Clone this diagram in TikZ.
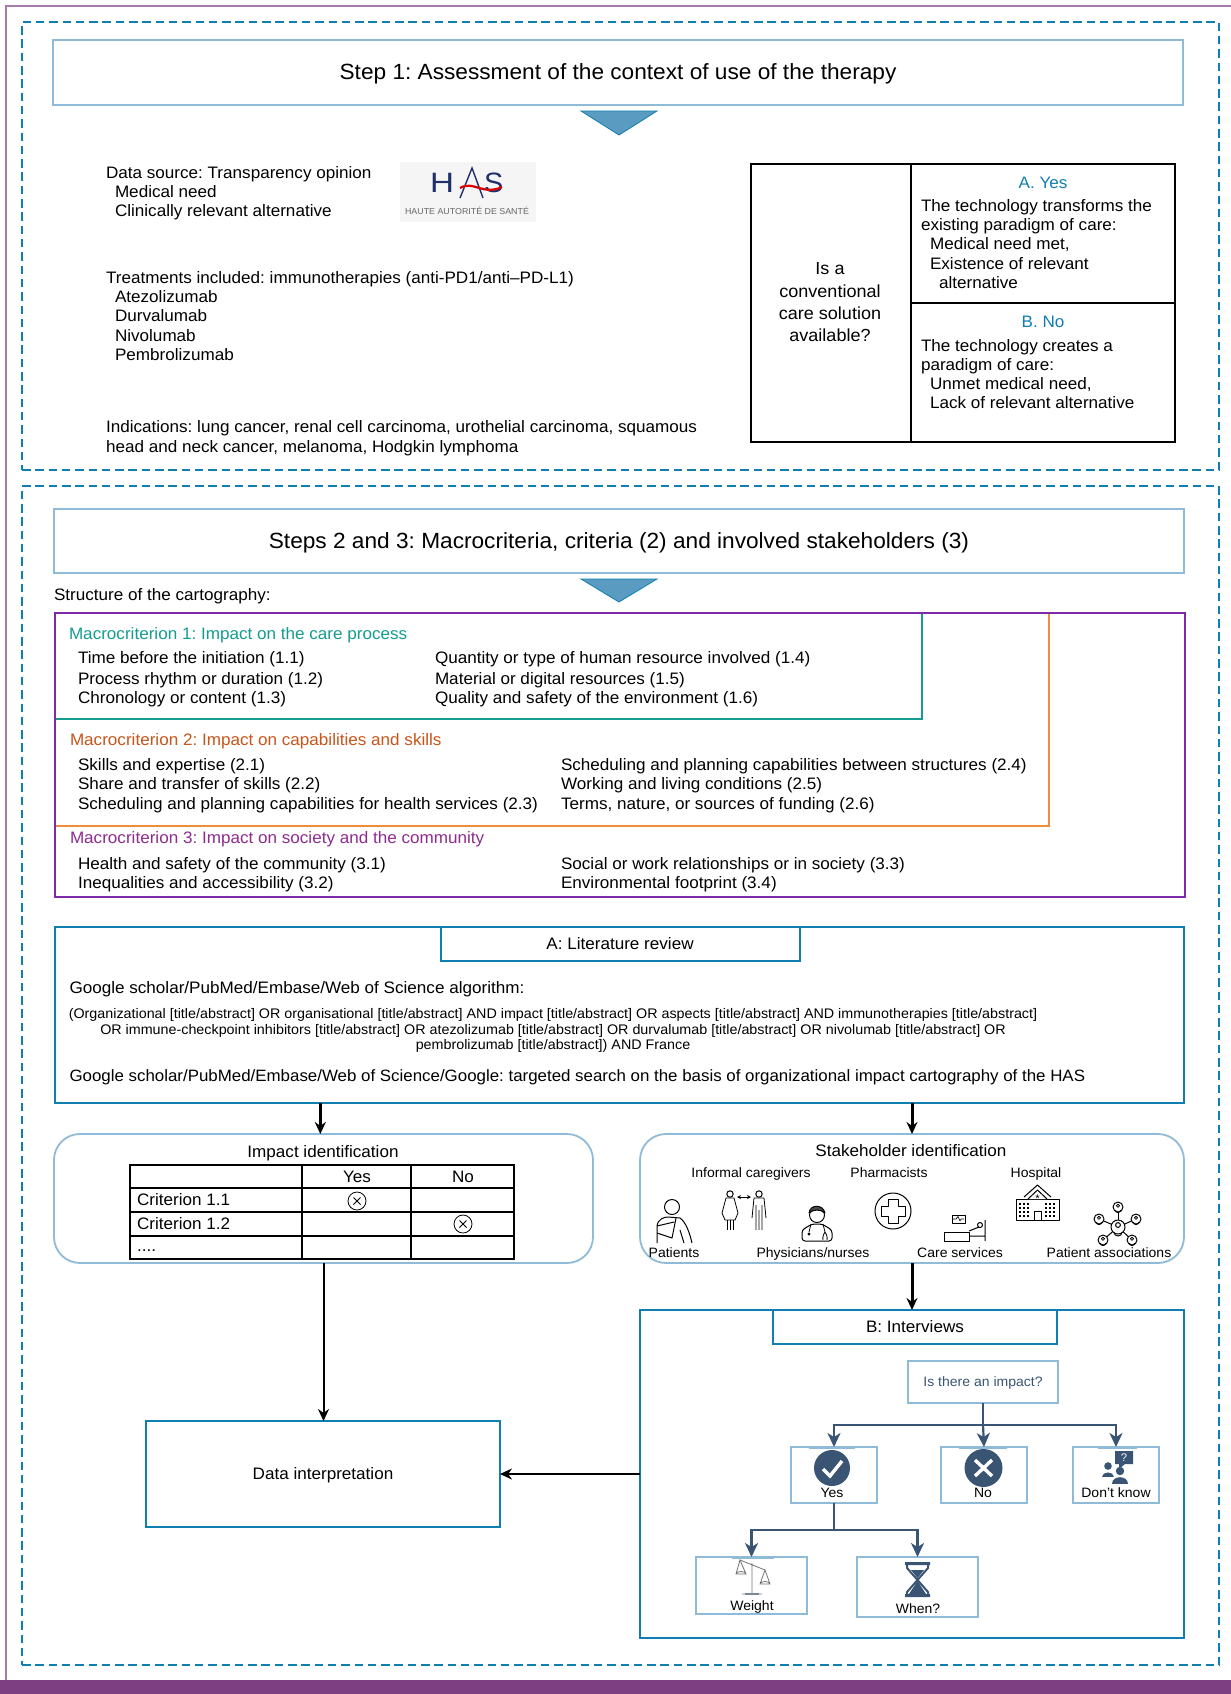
\documentclass[tikz,border=0pt]{standalone}
\usepackage{fontspec}
\usepackage{graphicx}
\setmainfont[FakeStretch=1.03]{Liberation Sans}
\usetikzlibrary{arrows.meta,calc}
\definecolor{dblue}{HTML}{0F7FB2}
\definecolor{lblue}{HTML}{8FBBD9}
\definecolor{teal2}{HTML}{159C90}
\definecolor{orange2}{HTML}{F28C38}
\definecolor{purp}{HTML}{7F2AA8}
\definecolor{mtwo}{HTML}{C8551B}
\definecolor{mthree}{HTML}{8E2C90}
\definecolor{navy}{HTML}{3A5573}
\definecolor{band}{HTML}{7D3F82}
\definecolor{frame}{HTML}{A57BAE}
\definecolor{tri}{HTML}{5A9BC1}
\definecolor{hasblue}{HTML}{1F2F6B}
\newcommand\fs[1]{\fontsize{#1}{#1}\selectfont\frenchspacing}
\newcommand\bx[6]{\pgfmathsetmacro\bxw{#5-#3}\pgfmathsetmacro\bxh{#6-#4}%
  \node[#2,anchor=north west,minimum width=\bxw pt,minimum height=\bxh pt,inner sep=0pt,outer sep=0pt] (#1) at (#3,#4) {};}
\tikzset{
  base/.style={inner sep=0pt,outer sep=0pt,font=\fs{16.6},yshift=-5.5pt},
  tl/.style={base,anchor=base west},
  tc/.style={base,anchor=base},
  title/.style={font=\fs{22},yshift=-2pt},
  small/.style={font=\fs{13.9},yshift=1pt},
  lab/.style={font=\fs{13.6},yshift=1pt},
  dashbox/.style={draw=dblue,line width=1.6pt,dash pattern=on 8.5pt off 4.8pt},
  headbox/.style={draw=lblue,line width=2.2pt},
  ablue/.style={draw=dblue,line width=2pt},
  lbox/.style={draw=lblue,line width=2pt},
  rbox/.style={draw=lblue,line width=1.8pt,rounded corners=26pt},
  tblk/.style={draw=black,line width=2pt},
  arr/.style={-{Stealth[length=12pt,width=11pt]},line width=2pt,draw=black},
  arrt/.style={-{Stealth[length=12pt,width=11pt]},line width=3pt,draw=black},
  tr/.style={-{Stealth[length=14pt,width=13pt,inset=4pt]},line width=2.2pt,draw=navy},
  tr0/.style={line width=2.2pt,draw=navy},
  ic/.style={draw=black,line width=1pt,line join=round},
  trifill/.style={fill=tri,draw=dblue,line width=0.8pt},
}
\begin{document}
\begin{tikzpicture}[x=1pt,y=-1pt]
\useasboundingbox (0,0) rectangle (1231,1694);
\fill[white] (0,0) rectangle (1231,1694);
\fill[band] (0,1680) rectangle (1231,1694);
\draw[frame,line width=1.5pt] (6,1680) -- (6,6) -- (1231,6);
% dashed panels
\bx{pa}{dashbox}{22}{22}{1219}{470}
\bx{pb}{dashbox}{22}{486}{1219}{1665}
% step 1
\bx{s1}{headbox}{53}{40}{1183}{105}
\node[tc,title] (s1t) at (618,72) {Step 1: Assessment of the context of use of the therapy};
\path[trifill] (581,111) -- (657,111) -- (619,135) -- cycle;
\node[tl] (ds) at (106,173) {Data source: Transparency opinion};
\node[tl] (ds1) at (115,192) {Medical need};
\node[tl] (ds2) at (115,211) {Clinically relevant alternative};
% HAS logo
\fill[black!4] (400,162) rectangle (536,222);
\node[anchor=base west,inner sep=0pt,font=\fs{28},text=hasblue] (hH) at (430,192) {\scalebox{1.15}[1]{H}};
\node[anchor=base west,inner sep=0pt,font=\fs{28},text=hasblue] (hS) at (484,192) {S};
\draw[hasblue,line width=1.4pt] (460,198) -- (472,168) -- (483,198);
\draw[red!85!black,line width=2.2pt] (460,188) .. controls (474,180) and (482,196) .. (502,187);
\node[anchor=base,inner sep=0pt,font=\fs{8.6},text=black!60] (hT) at (467,214) {HAUTE AUTORITÉ DE SANTÉ};
\node[tl] (tr) at (106,278) {Treatments included: immunotherapies (anti-PD1/anti–PD-L1)};
\node[tl] (tr1) at (115,297) {Atezolizumab};
\node[tl] (tr2) at (115,316) {Durvalumab};
\node[tl] (tr3) at (115,336) {Nivolumab};
\node[tl] (tr4) at (115,355) {Pembrolizumab};
\node[tl] (in1) at (106,427) {Indications: lung cancer, renal cell carcinoma, urothelial carcinoma, squamous};
\node[tl] (in2) at (106,447) {head and neck cancer, melanoma, Hodgkin lymphoma};
% decision table
\bx{dt}{tblk}{751}{164}{1175}{442}
\bx{dq}{tblk}{751}{164}{911}{442}
\bx{da}{tblk}{911}{164}{1175}{303}
\node[tc,font=\fs{17.5}] (q1) at (830,269) {Is a};
\node[tc,font=\fs{17.5}] (q2) at (830,292) {conventional};
\node[tc,font=\fs{17.5}] (q3) at (830,314) {care solution};
\node[tc,font=\fs{17.5}] (q4) at (830,336) {available?};
\node[tc,text=dblue] (ay) at (1043,183) {A. Yes};
\node[tl] (a1) at (921,206) {The technology transforms the};
\node[tl] (a2) at (921,225) {existing paradigm of care:};
\node[tl] (a3) at (930,244) {Medical need met,};
\node[tl] (a4) at (930,264) {Existence of relevant};
\node[tl] (a5) at (939,283) {alternative};
\node[tc,text=dblue] (bn) at (1043,322) {B. No};
\node[tl] (b1) at (921,346) {The technology creates a};
\node[tl] (b2) at (921,365) {paradigm of care:};
\node[tl] (b3) at (930,384) {Unmet medical need,};
\node[tl] (b4) at (930,403) {Lack of relevant alternative};
% steps 2 and 3
\bx{s2}{headbox}{54}{509}{1184}{573}
\node[tc,title] (s2t) at (619,541) {Steps 2 and 3: Macrocriteria, criteria (2) and involved stakeholders (3)};
\path[trifill] (581,579) -- (657,579) -- (619,602) -- cycle;
\node[tl] (sc) at (54,595) {Structure of the cartography:};
\bx{m2}{draw=orange2,line width=2pt}{55}{613}{1049}{826}
\bx{m1}{draw=teal2,line width=2pt}{55}{613}{922}{719}
\bx{m3}{draw=purp,line width=2pt}{55}{613}{1185}{897}
\node[tl,text=teal2] (m1t) at (69,634) {Macrocriterion 1: Impact on the care process};
\node[tl] (c11) at (78,658) {Time before the initiation (1.1)};
\node[tl] (c12) at (78,679) {Process rhythm or duration (1.2)};
\node[tl] (c13) at (78,698) {Chronology or content (1.3)};
\node[tl] (c14) at (435,658) {Quantity or type of human resource involved (1.4)};
\node[tl] (c15) at (435,679) {Material or digital resources (1.5)};
\node[tl] (c16) at (435,698) {Quality and safety of the environment (1.6)};
\node[tl,text=mtwo] (m2t) at (70,740) {Macrocriterion 2: Impact on capabilities and skills};
\node[tl] (c21) at (78,765) {Skills and expertise (2.1)};
\node[tl] (c22) at (78,784) {Share and transfer of skills (2.2)};
\node[tl] (c23) at (78,804) {Scheduling and planning capabilities for health services (2.3)};
\node[tl] (c24) at (561,765) {Scheduling and planning capabilities between structures (2.4)};
\node[tl] (c25) at (561,784) {Working and living conditions (2.5)};
\node[tl] (c26) at (561,804) {Terms, nature, or sources of funding (2.6)};
\node[tl,text=mthree] (m3t) at (70,838) {Macrocriterion 3: Impact on society and the community};
\node[tl] (c31) at (78,864) {Health and safety of the community (3.1)};
\node[tl] (c32) at (78,883) {Inequalities and accessibility (3.2)};
\node[tl] (c33) at (561,864) {Social or work relationships or in society (3.3)};
\node[tl] (c34) at (561,883) {Environmental footprint (3.4)};
% A literature
\bx{A}{ablue}{55}{927}{1184}{1103}
\bx{At}{ablue}{441}{927}{800}{961}
\node[tc] (Att) at (620,944) {A: Literature review};
\node[tl] (g1) at (69.5,988) {Google scholar/PubMed/Embase/Web of Science algorithm:};
\node[tc,small] (g2) at (553,1014) {(Organizational [title/abstract] OR organisational [title/abstract] AND impact [title/abstract] OR aspects [title/abstract] AND immunotherapies [title/abstract]};
\node[tc,small] (g3) at (553,1030) {OR immune-checkpoint inhibitors [title/abstract] OR atezolizumab [title/abstract] OR durvalumab [title/abstract] OR nivolumab [title/abstract] OR};
\node[tc,small] (g4) at (553,1045) {pembrolizumab [title/abstract]) AND France};
\node[tl,font=\fs{16.4}] (g5) at (69.5,1076) {Google scholar/PubMed/Embase/Web of Science/Google: targeted search on the basis of organizational impact cartography of the HAS};
% impact identification
\bx{imp}{rbox}{54}{1134}{593}{1263}
\node[tc] (impt) at (323,1152) {Impact identification};
\bx{itb}{tblk}{130}{1165}{514}{1259}
\draw[tblk] (itb.south west |- 0,1188) -- (itb.south east |- 0,1188);
\draw[tblk] (itb.south west |- 0,1212) -- (itb.south east |- 0,1212);
\draw[tblk] (itb.south west |- 0,1236) -- (itb.south east |- 0,1236);
\draw[tblk] (302,1165) -- (302,1259);
\draw[tblk] (411,1165) -- (411,1259);
\node[tc] (iy) at (357,1177) {Yes};
\node[tc] (in) at (463,1177) {No};
\node[tl] (ic1) at (137,1200) {Criterion 1.1};
\node[tl] (ic2) at (137,1224) {Criterion 1.2};
\node[tl] (ic3) at (137,1246) {....};
\draw[ic,line width=0.8pt] (357,1201) circle (9) (353.5,1197.5) -- (360.5,1204.5) (360.5,1197.5) -- (353.5,1204.5);
\draw[ic,line width=0.8pt] (463,1224) circle (9) (459.5,1220.5) -- (466.5,1227.5) (466.5,1220.5) -- (459.5,1227.5);
% stakeholders
\bx{stk}{rbox}{640}{1134}{1184}{1263}
\node[tc] (stkt) at (911,1151) {Stakeholder identification};
\node[tc,lab] (l1) at (751,1173) {Informal caregivers};
\node[tc,lab] (l2) at (889,1173) {Pharmacists};
\node[tc,lab] (l3) at (1036,1173) {Hospital};
\node[tc,lab] (l4) at (674,1253) {Patients};
\node[tc,lab] (l5) at (813,1253) {Physicians/nurses};
\node[tc,lab] (l6) at (960,1253) {Care services};
\node[tc,lab] (l7) at (1109,1253) {Patient associations};
% patient icon
\draw[ic] (672,1207) circle (7.5);
\draw[ic] (657,1243) -- (657,1226) .. controls (658,1219) and (664,1217) .. (668,1217) -- (680,1218) .. controls (686,1222) and (690,1234) .. (692,1243);
\draw[ic] (657,1233) -- (672,1238) -- (676,1218) (657,1226) -- (674,1222) (680,1230) -- (684,1243);
% couple icon
\draw[ic] (730,1194) circle (3.2) (759,1194) circle (3.2);
\draw[ic,line width=0.8pt] (726,1198) -- (734,1198) -- (738,1213) -- (735,1220) -- (725,1220) -- (722,1213) -- cycle;
\draw[ic,line width=0.8pt] (727,1220) -- (727,1230) (730,1220) -- (730,1230) (733,1220) -- (733,1230);
\draw[ic,line width=0.8pt] (754,1198) -- (764,1198) -- (766,1218) (754,1198) -- (752,1218) (756,1205) -- (756,1230) (759,1210) -- (759,1230) (762,1205) -- (762,1230);
\draw[ic,line width=0.7pt,{Stealth[length=4pt,width=4pt]}-{Stealth[length=4pt,width=4pt]}] (737,1197) -- (751,1197);
% physician icon
\draw[ic] (817,1215) circle (7.5);
\draw[ic,fill=black!70] (809,1213) .. controls (810,1204) and (823,1204) .. (825,1213) .. controls (820,1209) and (814,1209) .. (809,1213) -- cycle;
\draw[ic,rounded corners=3pt] (802,1241) -- (802,1230) -- (812,1224) -- (822,1224) -- (832,1230) -- (832,1241) -- cycle;
\draw[ic,line width=0.8pt] (811,1224) -- (809,1232) (823,1224) -- (825,1232) (825,1232) .. controls (822,1236) and (823,1240) .. (823,1240) (825,1232) .. controls (828,1236) and (827,1240) .. (827,1240);
\fill (809,1234) circle (1.6);
% pharmacy icon
\draw[ic] (893,1211) circle (18);
\draw[ic] (888,1199) -- (898,1199) -- (898,1206) -- (905,1206) -- (905,1216) -- (898,1216) -- (898,1223) -- (888,1223) -- (888,1216) -- (881,1216) -- (881,1206) -- (888,1206) -- cycle;
% bed icon
\draw[ic] (944,1232) rectangle (969,1241);
\draw[ic] (969,1231) -- (979,1227) (985,1220) -- (985,1241) (969,1236) -- (985,1236);
\draw[ic] (980,1225) circle (2.5);
\draw[ic] (952,1215) rectangle (965,1223);
\draw[ic,line width=0.6pt] (953,1219) -- (956,1219) -- (958,1216.5) -- (960,1221) -- (961,1219) -- (964,1219);
% hospital icon
\draw[ic] (1016,1220) -- (1016,1199) -- (1059,1199) -- (1059,1220) -- cycle;
\draw[ic,fill=white] (1028,1199) -- (1037.5,1190) -- (1047,1199) (1024,1197) -- (1037.5,1185) -- (1051,1197);
\node[anchor=center,inner sep=0pt,font=\fs{11}] (hstar) at (1037.5,1199) {*};
\draw[ic] (1034,1220) -- (1034,1211) -- (1041,1211) -- (1041,1220);
\foreach \hx in {1019,1023,1027,1045,1049,1053}
  \foreach \hy in {1203,1207,1211,1215}
    \fill (\hx,\hy) rectangle ++(2,2);
% associations icon
\coordinate (ac) at (1118,1227);
\foreach \ax/\ay in {1118/1207,1099/1219,1136/1219,1103/1240,1132/1240} {
  \draw[ic] (ac) -- (\ax,\ay);
  \draw[ic,fill=white] (\ax,\ay) circle (5);
  \draw[ic,line width=0.8pt] (\ax,\ay-1.2) circle (1.6) (\ax-2.8,\ay+3.2) arc (180:0:2.8 and 2.4);
}
\draw[ic,fill=white] (ac) circle (7);
\draw[ic] (1118,1225) circle (2.4) (1114,1232.5) arc (180:0:4 and 3.5);
% interviews
\bx{B}{ablue}{640}{1310}{1184}{1638}
\bx{Bt}{ablue}{773}{1310}{1057}{1344}
\node[tc] (Btt) at (915,1327) {B: Interviews};
\bx{qq}{lbox}{908}{1361}{1058}{1403}
\node[tc,lab,text=navy] (qqt) at (983,1382) {Is there an impact?};
\bx{yes}{lbox}{791}{1447}{877}{1503}
\bx{no}{lbox}{941}{1447}{1027}{1503}
\bx{dk}{lbox}{1073}{1447}{1159}{1503}
\bx{wt}{lbox}{696}{1557}{807}{1614}
\bx{wh}{lbox}{857}{1557}{978}{1617}
\draw[lblue,line width=3pt] (809,1447) -- (855,1447) (959,1447) -- (1007,1447) (1098,1447) -- (1137,1447) (732,1557) -- (774,1557);
\node[tc,lab] (yest) at (832,1493) {Yes};
\node[tc,lab] (not) at (983,1493) {No};
\node[tc,lab] (dkt) at (1116,1493) {Don’t know};
\node[tc,lab] (wtt) at (752,1606) {Weight};
\node[tc,lab] (wht) at (918,1609) {When?};
% yes / no icons
\fill[navy] (832,1468) circle (18);
\draw[white,line width=3.4pt] (823,1469) -- (830,1476) -- (842,1461);
\fill[navy] (983.5,1468) circle (19);
\draw[white,line width=3.4pt] (975,1460) -- (992,1476) (992,1460) -- (975,1476);
% don't know icon
\fill[navy] (1115,1451) rectangle (1133,1464) (1119,1464) -- (1125,1464) -- (1119,1469) -- cycle;
\node[anchor=center,inner sep=0pt,font=\fs{11},text=white] (dkq) at (1124,1457.5) {?};
\fill[navy] (1108,1466) circle (3.8) (1120,1471) circle (4.2);
\fill[navy] (1102,1477) .. controls (1102,1471) and (1114,1471) .. (1114,1477) -- cycle;
\fill[navy] (1112,1484) .. controls (1112,1475) and (1128,1475) .. (1128,1484) -- cycle;
% scale icon
\draw[black!55,line width=0.8pt] (752,1563) -- (752,1594) (742,1594) -- (762,1594) (740,1560) -- (765,1570);
\draw[navy!70,line width=1.2pt] (745,1594) -- (759,1594);
\draw[black!55,line width=0.8pt] (740,1560) -- (736,1574) -- (746,1574) -- cycle (736,1574) arc (180:360:5 and 2.5);
\draw[black!55,line width=0.8pt] (765,1570) -- (760,1584) -- (770,1584) -- cycle (760,1584) arc (180:360:5 and 2.5);
% hourglass icon
\fill[navy] (905,1562) rectangle (930,1565) (905,1594) rectangle (930,1597);
\draw[navy,line width=2pt] (907,1565) -- (907,1568) -- (928,1592) -- (928,1594) (928,1565) -- (928,1568) -- (907,1592) -- (907,1594);
\fill[navy] (917.5,1581) -- (926,1594) -- (909,1594) -- cycle (911,1570) -- (924,1570) -- (917.5,1578) -- cycle;
% data interpretation
\bx{data}{ablue}{146}{1421}{500}{1527}
\node[tc] (datat) at (323,1474) {Data interpretation};
% connectors
\coordinate (aleft) at ($(A.south west)!0.235!(A.south east)$);
\draw[arrt] (aleft) -- (aleft |- imp.north);
\draw[arrt] (A.south -| stk.north) -- (stk.north);
\draw[arrt] (stk.south) -- (B.north);
\draw[arr] (imp.south) -- (imp.south |- data.north);
\draw[arr] (B.west) -- (data.east);
\coordinate (jq) at (983,1425);
\coordinate (jy) at (834,1530);
\draw[tr0] (qq.south) -- (jq);
\draw[tr] (jq) -| (yes.north);
\draw[tr] (jq) -- (no.north);
\draw[tr] (jq) -| (dk.north);
\draw[tr0] (yes.south) -- (jy);
\draw[tr] (jy) -| (wt.north);
\draw[tr] (jy) -| (wh.north);
\end{tikzpicture}
\end{document}
